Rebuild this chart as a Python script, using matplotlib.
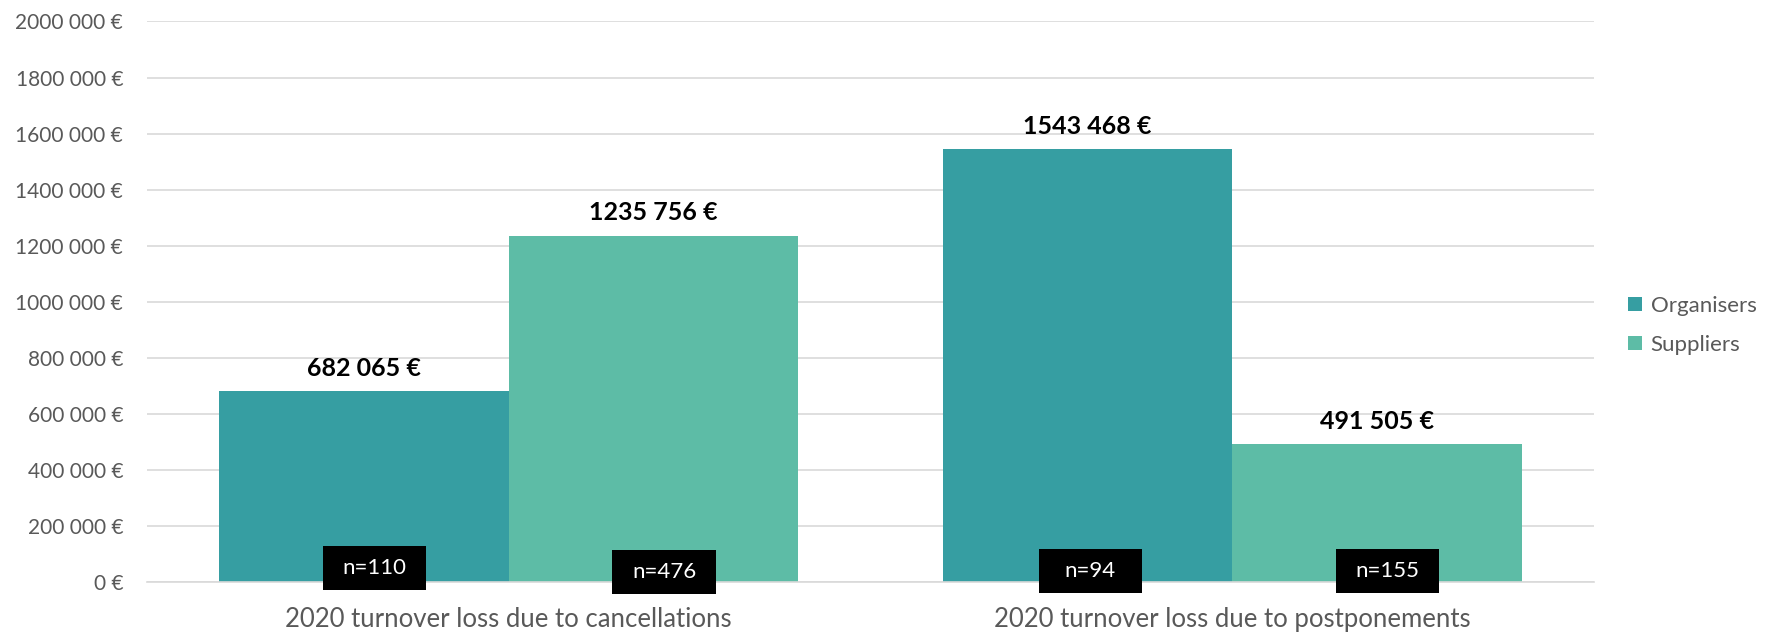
import matplotlib
matplotlib.use("Agg")
import matplotlib.pyplot as plt
from matplotlib.patches import Rectangle
import numpy as np

categories = ["2020 turnover loss due to cancellations", "2020 turnover loss due to postponements"]
series_names = ["Organisers", "Suppliers"]
organisers = [682065, 1543468]
suppliers = [1235756, 491505]
n_organisers = [110, 94]
n_suppliers = [476, 155]
yticks = [0, 200000, 400000, 600000, 800000, 1000000, 1200000, 1400000, 1600000, 1800000, 2000000]

colors = ["#369EA2", "#5DBCA6"]
FONT = ["Lato", "DejaVu Sans"]
plt.rcParams['font.family'] = FONT

def fmt(v):
    s = f"{int(v):,}".replace(",", " ")
    parts = s.split(" ")
    if len(parts) > 2:
        s = "".join(parts[:-1]) + " " + parts[-1]
    return s + " €"

fig = plt.figure(figsize=(17.69, 6.32), dpi=100)
ax = fig.add_axes([0.083, 0.079, 0.818, 0.887])

x = np.arange(len(categories))
w = 0.4
b1 = ax.bar(x - w/2, organisers, w, color=colors[0], label=series_names[0], zorder=2)
b2 = ax.bar(x + w/2, suppliers, w, color=colors[1], label=series_names[1], zorder=2)

for bars, vals in ((b1, organisers), (b2, suppliers)):
    for r, v in zip(bars, vals):
        ax.text(r.get_x() + r.get_width()/2, v + 40000, fmt(v), ha="center", va="bottom",
                fontsize=18, fontweight="bold", color="black", zorder=3)

bw, bh = 0.143, 157000
def nbox(cx, cy, label):
    ax.add_patch(Rectangle((cx - bw/2, cy - bh/2), bw, bh, fc="black", ec="none",
                           zorder=4, clip_on=False))
    ax.text(cx, cy, label, ha="center", va="center", fontsize=16, color="white", zorder=5)

box_y_org = [50000, 38000]
box_y_sup = [35000, 38000]
box_dx_org = [0.015, 0.004]
box_dx_sup = [0.015, 0.015]
for i, (no, ns) in enumerate(zip(n_organisers, n_suppliers)):
    nbox(x[i] - w/2 + box_dx_org[i], box_y_org[i], f"n={no}")
    nbox(x[i] + w/2 + box_dx_sup[i], box_y_sup[i], f"n={ns}")

ax.set_xlim(-0.5, 1.5)
ax.set_ylim(0, 2000000)
ax.set_yticks(yticks)
ax.set_yticklabels([fmt(v) for v in yticks], fontsize=15, color="#595959")
ax.set_xticks(x)
ax.set_xticklabels(categories, fontsize=18.5, color="#595959")
ax.tick_params(axis="both", length=0)
ax.tick_params(axis="y", pad=17)
ax.tick_params(axis="x", pad=18)
ax.grid(axis="y", color="#D9D9D9", linewidth=1.2, zorder=0)
for s in ["top", "right", "left"]:
    ax.spines[s].set_visible(False)
ax.spines["bottom"].set_color("#D9D9D9")
ax.spines["bottom"].set_linewidth(1.2)

leg = ax.legend(loc="center left", bbox_to_anchor=(1.01, 0.458), frameon=False, fontsize=16,
                handlelength=0.6, handleheight=0.6, handletextpad=0.4, labelspacing=0.85)
for t in leg.get_texts():
    t.set_color("#595959")

fig.savefig("out.png", dpi=100)
